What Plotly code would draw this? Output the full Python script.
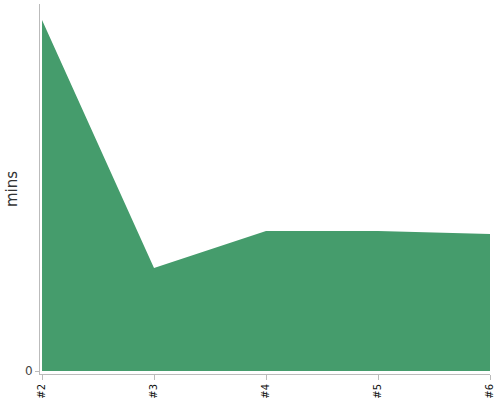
import plotly.graph_objects as go

categories = ["#2", "#3", "#4", "#5", "#6"]
mins = [35.1, 10.3, 14.0, 14.0, 13.7]
y_max = 36.7

fig = go.Figure(go.Scatter(
    x=categories, y=mins, mode="lines", fill="tozeroy",
    line=dict(color="rgb(69,156,108)", width=0),
    fillcolor="rgb(69,156,108)", hoverinfo="skip",
))

fig.update_layout(
    width=500, height=400,
    margin=dict(l=40, r=10, t=4, b=26),
    plot_bgcolor="white", paper_bgcolor="white",
    showlegend=False,
    font=dict(family="DejaVu Sans"),
    annotations=[dict(
        text="mins", textangle=-90, showarrow=False,
        xref="paper", yref="paper", x=0, y=0.5, xshift=-28,
        xanchor="center", yanchor="middle",
        font=dict(size=15, color="#333"),
    )],
)
fig.update_xaxes(
    type="category", range=[-0.018, 4], automargin=False,
    showline=True, linecolor="#bbbbbb", linewidth=1,
    ticks="outside", ticklen=5, tickcolor="#bbbbbb",
    tickangle=-90, tickfont=dict(size=10, color="#111"),
    showgrid=False, zeroline=False,
)
fig.update_yaxes(
    range=[-0.3, y_max], automargin=False,
    showline=True, linecolor="#bbbbbb", linewidth=1,
    ticks="outside", ticklen=4, tickcolor="#bbbbbb",
    tickvals=[0], ticktext=["0"], tickfont=dict(size=12, color="#444"),
    showgrid=False, zeroline=False,
)

fig.write_html("out.html", config={"displayModeBar": False},
               post_script="document.body.style.margin='0';")
